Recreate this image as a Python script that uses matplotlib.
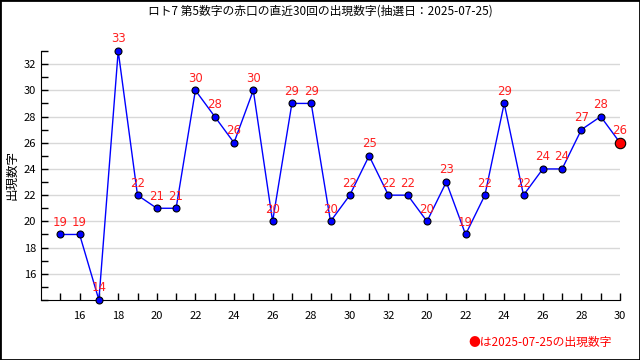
import matplotlib
matplotlib.use('Agg')
import matplotlib.pyplot as plt
from matplotlib.patches import Rectangle
from matplotlib.ticker import MultipleLocator

plt.rcParams['font.family'] = ['Noto Sans CJK JP', 'DejaVu Sans']

# Data: last 30 draws (5th number, 赤口)
numbers = [19, 19, 14, 33, 22, 21, 21, 30, 28, 26, 30, 20, 29, 29, 20,
           22, 25, 22, 22, 20, 23, 19, 22, 29, 22, 24, 24, 27, 28, 26]
tick_idx = [1, 3, 5, 7, 9, 11, 13, 15, 17, 19, 21, 23, 25, 27, 29]
tick_labels = ['16', '18', '20', '22', '24', '26', '28', '30', '32',
               '20', '22', '24', '26', '28', '30']
title = 'ロト7 第5数字の赤口の直近30回の出現数字(抽選日：2025-07-25)'
note = '●は2025-07-25の出現数字'

fig = plt.figure(figsize=(6.4, 3.6), dpi=100)
ax = fig.add_axes([41/640, 60/360, 579/640, 249/360])

x = list(range(len(numbers)))
ax.plot(x, numbers, color='#0000ff', lw=1, zorder=3)
ax.plot(x[:-1], numbers[:-1], 'o', ms=5, mfc='#0000ff', mec='black', mew=0.8, zorder=4,
        clip_on=False)
ax.plot(x[-1], numbers[-1], 'o', ms=7.5, mfc='#ff0000', mec='black', mew=0.8, zorder=5,
        clip_on=False)
for xi, v in zip(x, numbers):
    ax.annotate(str(v), (xi, v), xytext=(0, 4), textcoords='offset points',
                ha='center', va='bottom', color='#ff2020', fontsize=8.5,
                family='DejaVu Sans', zorder=6, annotation_clip=False)

ax.set_xlim(-1, 29)
ax.set_ylim(14, 33)
ax.set_xticks(x, minor=True)
ax.set_xticks(tick_idx)
ax.set_xticklabels(tick_labels)
ax.yaxis.set_major_locator(MultipleLocator(2))
ax.yaxis.set_minor_locator(MultipleLocator(1))
ax.set_yticks(range(16, 33, 2))
ax.tick_params(which='both', direction='in', length=5, width=1, labelsize=8)
ax.tick_params(axis='x', which='major', length=5, pad=8)
ax.grid(axis='y', which='major', color='#d8d8d8', lw=1)
ax.set_axisbelow(True)
for s in ['top', 'right']:
    ax.spines[s].set_visible(False)
ax.set_ylabel('出現数字', fontsize=9, labelpad=4)

fig.text(0.5, 1 - 11/360, title, ha='center', va='center', fontsize=8.5)
fig.text(612/640, 1 - 342/360, note, ha='right', va='center', fontsize=8.5, color='#ff0000')
fig.patches.append(Rectangle((0, 0), 1, 1, transform=fig.transFigure, fill=False,
                             ec='black', lw=2))

fig.savefig('out.png', dpi=100)
